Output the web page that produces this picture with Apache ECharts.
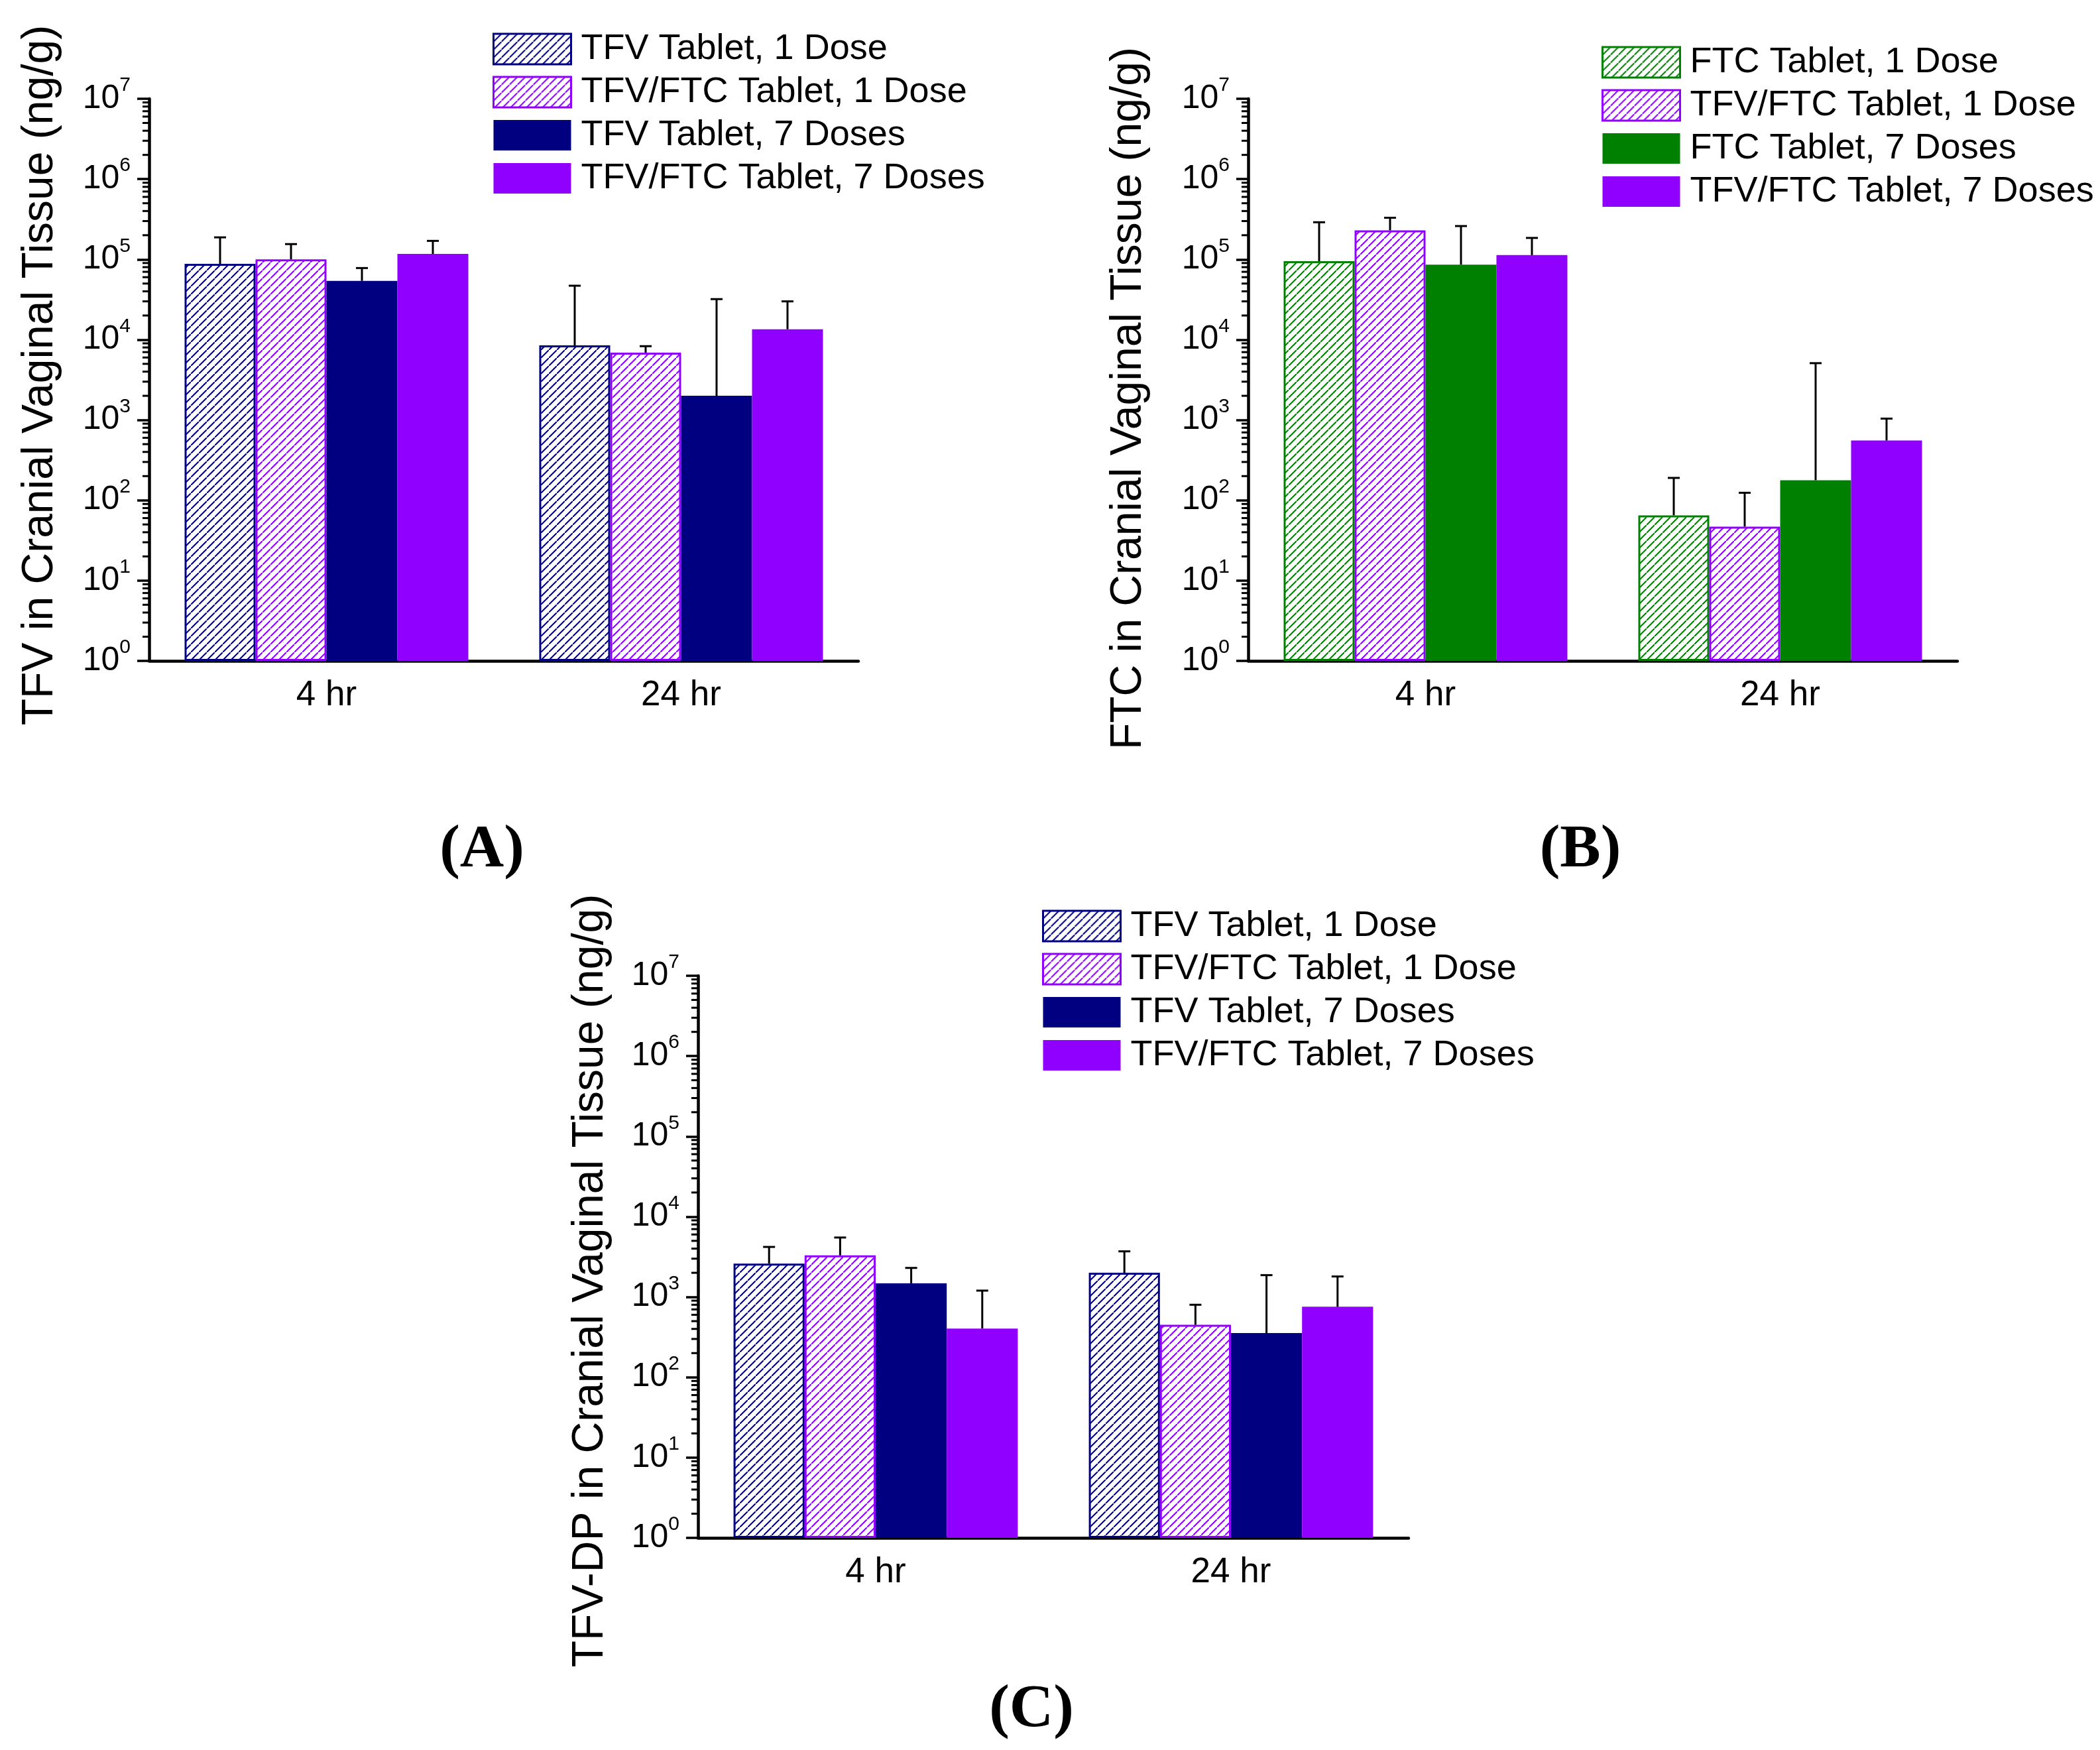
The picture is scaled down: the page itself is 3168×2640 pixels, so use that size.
<!DOCTYPE html>
<html><head><meta charset="utf-8">
<script src="https://cdn.jsdelivr.net/npm/echarts@6/dist/echarts.min.js"></script>
<style>html,body{margin:0;padding:0;background:#fff}#c{width:3168px;height:2640px}</style>
</head><body><div id="c"></div>
<script>
// ---------- data ----------
const categories = ['4 hr', '24 hr'];

// Panel A: TFV in cranial vaginal tissue (ng/g); mean and mean+SD
const aTfv1Mean = [8.8e4, 8.5e3];
const aTfv1Upper = [1.88e5, 4.7e4];
const aCombo1Mean = [1.0e5, 6.9e3];
const aCombo1Upper = [1.55e5, 8.3e3];
const aTfv7Mean = [5.4e4, 2.0e3];
const aTfv7Upper = [7.8e4, 3.2e4];
const aCombo7Mean = [1.17e5, 1.35e4];
const aCombo7Upper = [1.7e5, 3.0e4];

// Panel B: FTC
const bFtc1Mean = [9.5e4, 65];
const bFtc1Upper = [2.9e5, 190];
const bCombo1Mean = [2.3e5, 47];
const bCombo1Upper = [3.3e5, 124];
const bFtc7Mean = [8.6e4, 178];
const bFtc7Upper = [2.6e5, 5.1e3];
const bCombo7Mean = [1.13e5, 555];
const bCombo7Upper = [1.85e5, 1.04e3];

// Panel C: TFV-DP
const cTfv1Mean = [2.6e3, 2.0e3];
const cTfv1Upper = [4.2e3, 3.7e3];
const cCombo1Mean = [3.3e3, 450];
const cCombo1Upper = [5.5e3, 800];
const cTfv7Mean = [1.48e3, 355];
const cTfv7Upper = [2.3e3, 1.87e3];
const cCombo7Mean = [405, 755];
const cCombo7Upper = [1.2e3, 1.8e3];

const seriesNamesTFV = ['TFV Tablet, 1 Dose', 'TFV/FTC Tablet, 1 Dose', 'TFV Tablet, 7 Doses', 'TFV/FTC Tablet, 7 Doses'];
const seriesNamesFTC = ['FTC Tablet, 1 Dose', 'TFV/FTC Tablet, 1 Dose', 'FTC Tablet, 7 Doses', 'TFV/FTC Tablet, 7 Doses'];
const yTitles = ['TFV in Cranial Vaginal Tissue (ng/g)', 'FTC in Cranial Vaginal Tissue (ng/g)', 'TFV-DP in Cranial Vaginal Tissue (ng/g)'];
const panelLabels = ['(A)', '(B)', '(C)'];
const yMin = 1, yMax = 1e7;
const minorMultipliers = [2, 3, 4, 5, 6, 7, 8, 9];
const decadeStarts = [1, 10, 100, 1e3, 1e4, 1e5, 1e6];

// ---------- styling ----------
const NAVY = '#000080', PURPLE = '#9000FF', GREEN = '#008000';
const FONT = 'Liberation Sans, Arial, sans-serif';

function makeHatch(color) {
  const s = 12;
  const c = document.createElement('canvas');
  c.width = s; c.height = s;
  const ctx = c.getContext('2d');
  ctx.fillStyle = '#fff'; ctx.fillRect(0, 0, s, s);
  ctx.strokeStyle = color; ctx.lineWidth = 2;
  ctx.beginPath();
  ctx.moveTo(-3, s + 3); ctx.lineTo(s + 3, -3);
  ctx.moveTo(-s - 3, 3); ctx.lineTo(3, -s - 3);
  ctx.moveTo(s - 3, 2 * s + 3); ctx.lineTo(2 * s + 3, s - 3);
  ctx.stroke();
  return { image: c, repeat: 'repeat' };
}

const grids = [
  { left: 225, top: 149, width: 1070, height: 848 },
  { left: 1883, top: 149, width: 1070, height: 848 },
  { left: 1053, top: 1472, width: 1072, height: 848 }
];
const legendPos = [
  { left: 743, top: 47 },
  { left: 2416, top: 67 },
  { left: 1572, top: 1370 }
];
const titlePos = [[727, 1283], [2384, 1283], [1556, 2580]];
const nameGaps = [131, 147, 129];
const namePads = [[0, 0, 0, 14], [0, 56, 0, 0], [0, 72, 0, 0]];

const panels = [
  { names: seriesNamesTFV, colors: [NAVY, PURPLE, NAVY, PURPLE],
    means: [aTfv1Mean, aCombo1Mean, aTfv7Mean, aCombo7Mean],
    uppers: [aTfv1Upper, aCombo1Upper, aTfv7Upper, aCombo7Upper] },
  { names: seriesNamesFTC, colors: [GREEN, PURPLE, GREEN, PURPLE],
    means: [bFtc1Mean, bCombo1Mean, bFtc7Mean, bCombo7Mean],
    uppers: [bFtc1Upper, bCombo1Upper, bFtc7Upper, bCombo7Upper] },
  { names: seriesNamesTFV, colors: [NAVY, PURPLE, NAVY, PURPLE],
    means: [cTfv1Mean, cCombo1Mean, cTfv7Mean, cCombo7Mean],
    uppers: [cTfv1Upper, cCombo1Upper, cTfv7Upper, cCombo7Upper] }
];
const hatched = [true, true, false, false];

const minorTickValues = [];
decadeStarts.forEach(d => minorMultipliers.forEach(m => minorTickValues.push(d * m)));

function makeErr(k) {
  return function (params, api) {
    const i = api.value(0), mean = api.value(1), up = api.value(2);
    const band = api.size([1, 0])[0];
    const bw = band * 0.8 / 4;
    const base = api.coord([i, mean]);
    const top = api.coord([i, up]);
    const x = base[0] + (k - 1.5) * bw;
    return { type: 'group', children: [
      { type: 'line', shape: { x1: x, y1: base[1], x2: x, y2: top[1] }, style: { stroke: '#000', lineWidth: 3 } },
      { type: 'line', shape: { x1: x - 9, y1: top[1], x2: x + 9, y2: top[1] }, style: { stroke: '#000', lineWidth: 3 } }
    ] };
  };
}
function minorRender(params, api) {
  const y = api.coord([0, api.value(1)])[1];
  const x = params.coordSys.x;
  return { type: 'line', shape: { x1: x - 10, y1: y, x2: x, y2: y }, style: { stroke: '#000', lineWidth: 3 } };
}

const option = { animation: false, backgroundColor: '#fff',
  grid: [], xAxis: [], yAxis: [], legend: [], series: [], graphic: [] };

panels.forEach((p, g) => {
  option.grid.push(Object.assign({ containLabel: false }, grids[g]));
  option.xAxis.push({
    type: 'category', gridIndex: g, data: categories,
    axisLine: { onZero: false, lineStyle: { color: '#000', width: 4.5 } },
    axisTick: { alignWithLabel: true, length: 17, lineStyle: { color: '#000', width: 4 } },
    axisLabel: { fontSize: 53, fontFamily: FONT, color: '#000', margin: 26 },
    splitLine: { show: false }
  });
  option.yAxis.push({
    type: 'log', gridIndex: g, logBase: 10, min: yMin, max: yMax, splitNumber: 7,
    axisLine: { show: true, onZero: false, lineStyle: { color: '#000', width: 4.5 } },
    axisTick: { show: true, length: 18, lineStyle: { color: '#000', width: 3.5 } },
    minorTick: { show: false }, splitLine: { show: false },
    axisLabel: {
      margin: 28,
      formatter: v => '{b|10}{s|' + Math.round(Math.log10(v)) + '}',
      rich: {
        b: { fontSize: 50, fontFamily: FONT, color: '#000', lineHeight: 70 },
        s: { fontSize: 30, fontFamily: FONT, color: '#000', verticalAlign: 'top' }
      }
    },
    name: yTitles[g], nameLocation: 'middle', nameGap: nameGaps[g],
    nameTextStyle: { fontSize: 66, fontFamily: FONT, color: '#000', padding: namePads[g] }
  });
  const legendData = [];
  p.names.forEach((name, k) => {
    const col = p.colors[k];
    option.series.push({
      type: 'bar', name: name, xAxisIndex: g, yAxisIndex: g,
      data: p.means[k], barGap: '0%', barCategoryGap: '20%', z: 2,
      itemStyle: hatched[k]
        ? { color: makeHatch(col), borderColor: col, borderWidth: 3 }
        : { color: col, borderWidth: 0 }
    });
    legendData.push({ name: name, itemStyle: hatched[k] ? { borderColor: col, borderWidth: 3 } : { borderWidth: 0 } });
    option.series.push({
      type: 'custom', xAxisIndex: g, yAxisIndex: g, z: 5, silent: true, clip: false,
      data: categories.map((c, i) => [i, p.means[k][i], p.uppers[k][i]]),
      renderItem: makeErr(k)
    });
  });
  option.series.push({
    type: 'custom', xAxisIndex: g, yAxisIndex: g, z: 6, silent: true, clip: false,
    data: minorTickValues.map(v => [0, v]), renderItem: minorRender
  });
  option.legend.push(Object.assign({
    orient: 'vertical', itemWidth: 117, itemHeight: 46, itemGap: 11, icon: 'rect', padding: 0,
    selectedMode: false, data: legendData,
    textStyle: { fontSize: 54, fontFamily: FONT, color: '#000', padding: [0, 0, 0, 10] }
  }, legendPos[g]));
  option.graphic.push({
    type: 'text', x: titlePos[g][0], y: titlePos[g][1],
    style: { text: panelLabels[g], fontSize: 92, fontWeight: 'bold', fontFamily: 'Liberation Serif, Times New Roman, serif',
      fill: '#000', align: 'center', verticalAlign: 'middle' }
  });
});

const chart = echarts.init(document.getElementById('c'), null, { renderer: 'canvas' });
chart.setOption(option);
</script></body></html>
